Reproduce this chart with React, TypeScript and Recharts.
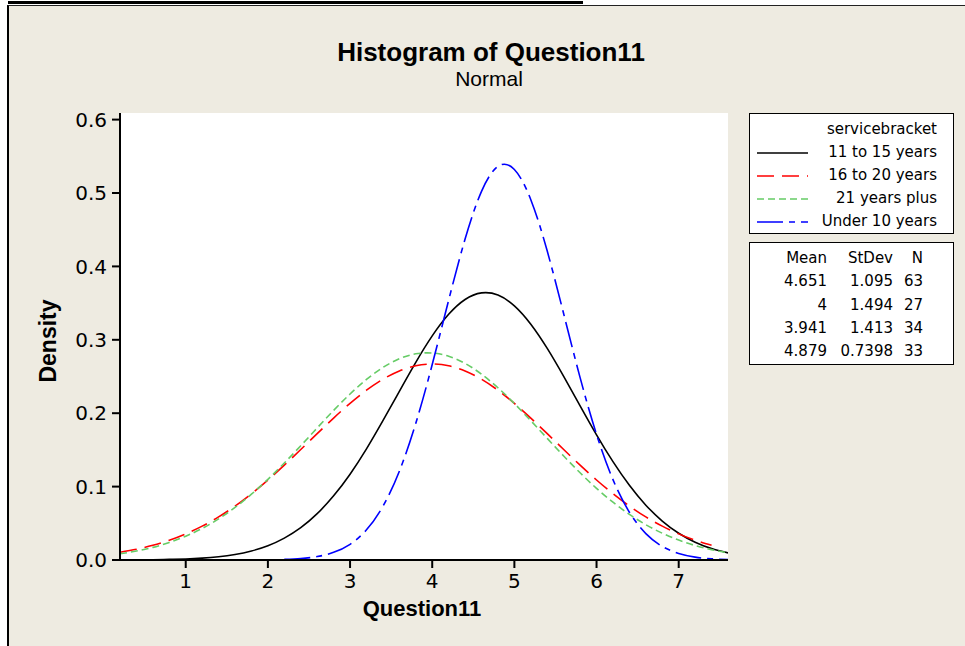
import { LineChart, Line, XAxis, YAxis, CartesianGrid } from 'recharts';

// x positions the curves were read at
const X_VALUES = [
  0.2, 0.4, 0.6, 0.8, 1.0, 1.2, 1.4, 1.6, 1.8, 2.0, 2.2, 2.4, 2.6, 2.8, 3.0, 3.2, 3.4, 3.6, 3.8,
  4.0, 4.2, 4.4, 4.6, 4.8, 5.0, 5.2, 5.4, 5.6, 5.8, 6.0, 6.2, 6.4, 6.6, 6.8, 7.0, 7.2, 7.4, 7.6,
];

// densities
const YEARS_11_15 = [
  0.0001, 0.0002, 0.0004, 0.0008, 0.0014, 0.0025, 0.0044, 0.0075, 0.0123, 0.0194, 0.0298, 0.044, 0.0631,
  0.0874, 0.1169, 0.1514, 0.1898, 0.2298, 0.2693, 0.3053, 0.3347, 0.3549, 0.3639, 0.361, 0.3463, 0.3213,
  0.2883, 0.2502, 0.2101, 0.1706, 0.134, 0.1018, 0.0747, 0.0531, 0.0365, 0.0243, 0.0156, 0.0097,
];
const YEARS_16_20 = [
  0.0105, 0.0146, 0.02, 0.0269, 0.0356, 0.0461, 0.0587, 0.0735, 0.0903, 0.109, 0.1292, 0.1505, 0.1721,
  0.1934, 0.2134, 0.2313, 0.2463, 0.2576, 0.2646, 0.267, 0.2646, 0.2576, 0.2463, 0.2313, 0.2134, 0.1934,
  0.1721, 0.1505, 0.1292, 0.109, 0.0903, 0.0735, 0.0587, 0.0461, 0.0356, 0.0269, 0.02, null,
];
const YEARS_21_PLUS = [
  0.0085, 0.0122, 0.0172, 0.0239, 0.0324, 0.043, 0.056, 0.0716, 0.0896, 0.1099, 0.1321, 0.1557, 0.1799,
  0.2038, 0.2261, 0.246, 0.2623, 0.2742, 0.2809, 0.282, 0.2776, 0.2678, 0.2532, 0.2347, 0.2132, 0.1898,
  0.1657, 0.1417, 0.1188, 0.0976, 0.0787, 0.0621, 0.0481, 0.0365, 0.0271, 0.0197, 0.0141, 0.0099,
];
const UNDER_10 = [
  null, null, null, null, null, null, null, null, null, null, 0.0008, 0.002, 0.0047,
  0.0104, 0.0214, 0.0411, 0.0731, 0.121, 0.1862, 0.2663, 0.3539, 0.4373, 0.5023, 0.5362, 0.5321, 0.4909,
  0.4209, 0.3354, 0.2485, 0.1711, 0.1095, 0.0651, 0.036, 0.0185, 0.0089, 0.0039, 0.0016, 0.0006,
];

const X_TICKS = [1, 2, 3, 4, 5, 6, 7];
const Y_TICKS = [0, 0.1, 0.2, 0.3, 0.4, 0.5, 0.6];

const GROUPS = ['11 to 15 years', '16 to 20 years', '21 years plus', 'Under 10 years'];
const MEANS = ['4.651', '4', '3.941', '4.879'];
const STDEVS = ['1.095', '1.494', '1.413', '0.7398'];
const COUNTS = ['63', '27', '34', '33'];

const SERIES = [
  { key: 'a', name: GROUPS[0], values: YEARS_11_15, color: '#000000', dash: undefined },
  { key: 'b', name: GROUPS[1], values: YEARS_16_20, color: '#ff0000', dash: '17 8' },
  { key: 'c', name: GROUPS[2], values: YEARS_21_PLUS, color: '#66cc66', dash: '7 4' },
  { key: 'd', name: GROUPS[3], values: UNDER_10, color: '#0000ff', dash: '26 6 6 6' },
];

const data = X_VALUES.map((x, i) => {
  const row: Record<string, number | null> = { x };
  SERIES.forEach(s => { row[s.key] = s.values[i]; });
  return row;
});

const BG = '#eeebe1';
const tickFont = { fontSize: 20, fill: '#000', fontFamily: 'DejaVu Sans' };
const legendFont = { fontFamily: 'DejaVu Sans', fontSize: 15, color: '#000' };

export default function App() {
  return (
    <div style={{ position: 'absolute', left: 0, top: 0, width: 965, height: 646, background: '#fff', overflow: 'hidden' }}>
      {/* page frame */}
      <div style={{ position: 'absolute', left: 8, top: 1, width: 575, height: 3, background: '#000' }} />
      <div style={{ position: 'absolute', left: 7, top: 5, right: 0, bottom: 0, background: BG, borderLeft: '2px solid #000', borderTop: '1px solid #222' }} />

      <div style={{ position: 'absolute', left: 0, top: 0 }}>
        <LineChart width={965} height={646} data={data} margin={{ top: 113, right: 237, left: 60, bottom: 56 }}>
          <CartesianGrid horizontal={false} vertical={false} fill="#fff" fillOpacity={1} />
          <XAxis
            xAxisId="top"
            orientation="top"
            type="number"
            dataKey="x"
            domain={[0.2, 7.6]}
            allowDataOverflow
            height={0}
            tick={false}
            tickLine={false}
            axisLine={{ stroke: '#000', strokeWidth: 2 }}
          />
          <YAxis
            yAxisId="right"
            orientation="right"
            type="number"
            domain={[0, 0.609]}
            allowDataOverflow
            width={0}
            tick={false}
            tickLine={false}
            axisLine={{ stroke: '#000', strokeWidth: 2 }}
          />
          <XAxis
            type="number"
            dataKey="x"
            domain={[0.2, 7.6]}
            ticks={X_TICKS}
            allowDataOverflow
            height={30}
            tickSize={8}
            tickMargin={6}
            tick={tickFont}
            tickLine={{ stroke: '#000', strokeWidth: 2 }}
            axisLine={{ stroke: '#000', strokeWidth: 2 }}
          />
          <YAxis
            type="number"
            domain={[0, 0.609]}
            ticks={Y_TICKS}
            allowDataOverflow
            width={60}
            tickSize={8}
            tickMargin={5}
            tick={tickFont}
            tickFormatter={(v: number) => v.toFixed(1)}
            tickLine={{ stroke: '#000', strokeWidth: 2 }}
            axisLine={{ stroke: '#000', strokeWidth: 2 }}
          />
          {SERIES.map(s => (
            <Line
              key={s.key}
              dataKey={s.key}
              name={s.name}
              type="natural"
              stroke={s.color}
              strokeWidth={1.6}
              strokeDasharray={s.dash}
              dot={false}
              activeDot={false}
              connectNulls={false}
              isAnimationActive={false}
            />
          ))}
        </LineChart>
      </div>

      {/* titles */}
      <div style={{ position: 'absolute', left: 491, top: 37, transform: 'translateX(-50%)', whiteSpace: 'nowrap', fontFamily: 'Liberation Sans', fontWeight: 'bold', fontSize: 26, lineHeight: '30px' }}>
        Histogram of Question11
      </div>
      <div style={{ position: 'absolute', left: 489, top: 67, transform: 'translateX(-50%)', whiteSpace: 'nowrap', fontFamily: 'Liberation Sans', fontSize: 21, lineHeight: '24px' }}>
        Normal
      </div>
      <div style={{ position: 'absolute', left: 422, top: 596, transform: 'translateX(-50%)', whiteSpace: 'nowrap', fontFamily: 'Liberation Sans', fontWeight: 'bold', fontSize: 22, lineHeight: '26px' }}>
        Question11
      </div>
      <div style={{ position: 'absolute', left: 48, top: 341, transform: 'translate(-50%, -50%) rotate(-90deg)', whiteSpace: 'nowrap', fontFamily: 'Liberation Sans', fontWeight: 'bold', fontSize: 23, lineHeight: '26px' }}>
        Density
      </div>

      {/* group legend */}
      <div style={{ position: 'absolute', left: 749, top: 113, width: 205, height: 121, background: '#fff', border: '1.5px solid #000', boxSizing: 'border-box' }} />
      <div style={{ position: 'absolute', left: 749, top: 118, width: 188, ...legendFont, lineHeight: '23px' }}>
        <div style={{ textAlign: 'right' }}>servicebracket</div>
        {SERIES.map(s => (
          <div key={s.key} style={{ position: 'relative', textAlign: 'right', whiteSpace: 'nowrap' }}>
            <svg width={52} height={4} style={{ position: 'absolute', left: 8, top: 10 }}>
              <line x1={0} y1={2} x2={51} y2={2} stroke={s.color} strokeWidth={1.6} strokeDasharray={s.dash} />
            </svg>
            {s.name}
          </div>
        ))}
      </div>

      {/* stats table */}
      <div style={{ position: 'absolute', left: 749, top: 242, width: 205, height: 123, background: '#fff', border: '1.5px solid #000', boxSizing: 'border-box' }} />
      <table style={{ position: 'absolute', left: 770, top: 247, borderCollapse: 'collapse', ...legendFont, lineHeight: '23.3px' }}>
        <tbody>
          <tr>
            <td style={{ textAlign: 'right', padding: 0, width: 57 }}>Mean</td>
            <td style={{ textAlign: 'right', padding: 0, width: 66 }}>StDev</td>
            <td style={{ textAlign: 'right', padding: 0, width: 30 }}>N</td>
          </tr>
          {MEANS.map((m, i) => (
            <tr key={i}>
              <td style={{ textAlign: 'right', padding: 0 }}>{m}</td>
              <td style={{ textAlign: 'right', padding: 0 }}>{STDEVS[i]}</td>
              <td style={{ textAlign: 'right', padding: 0 }}>{COUNTS[i]}</td>
            </tr>
          ))}
        </tbody>
      </table>
    </div>
  );
}
